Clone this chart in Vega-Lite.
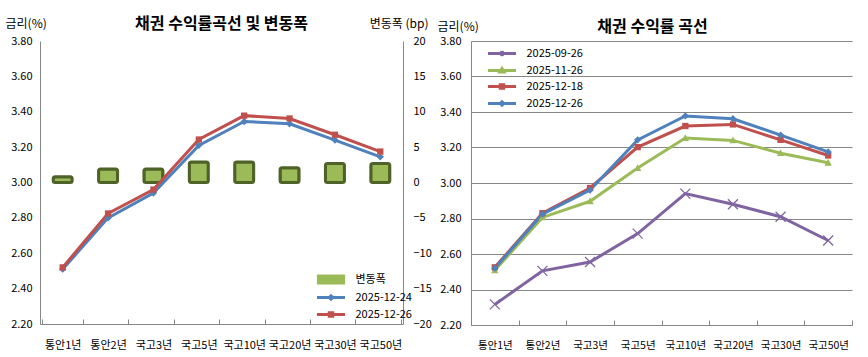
{
  "$schema": "https://vega.github.io/schema/vega-lite/v6.json",
  "padding": {"left": 5, "top": 16, "right": 5, "bottom": 0},
  "background": "white",
  "datasets": {
    "chg": [
      {"tenor": "통안1년", "series": "변동폭", "chg": 0.8},
      {"tenor": "통안2년", "series": "변동폭", "chg": 1.9},
      {"tenor": "국고3년", "series": "변동폭", "chg": 1.9},
      {"tenor": "국고5년", "series": "변동폭", "chg": 2.9},
      {"tenor": "국고10년", "series": "변동폭", "chg": 2.9},
      {"tenor": "국고20년", "series": "변동폭", "chg": 2.1},
      {"tenor": "국고30년", "series": "변동폭", "chg": 2.7},
      {"tenor": "국고50년", "series": "변동폭", "chg": 2.7}
    ],
    "left": [
      {"tenor": "통안1년", "series": "2025-12-24", "rate": 2.51},
      {"tenor": "통안2년", "series": "2025-12-24", "rate": 2.80},
      {"tenor": "국고3년", "series": "2025-12-24", "rate": 2.94},
      {"tenor": "국고5년", "series": "2025-12-24", "rate": 3.21},
      {"tenor": "국고10년", "series": "2025-12-24", "rate": 3.345},
      {"tenor": "국고20년", "series": "2025-12-24", "rate": 3.332},
      {"tenor": "국고30년", "series": "2025-12-24", "rate": 3.24},
      {"tenor": "국고50년", "series": "2025-12-24", "rate": 3.145},
      {"tenor": "통안1년", "series": "2025-12-26", "rate": 2.52},
      {"tenor": "통안2년", "series": "2025-12-26", "rate": 2.825},
      {"tenor": "국고3년", "series": "2025-12-26", "rate": 2.96},
      {"tenor": "국고5년", "series": "2025-12-26", "rate": 3.243},
      {"tenor": "국고10년", "series": "2025-12-26", "rate": 3.378},
      {"tenor": "국고20년", "series": "2025-12-26", "rate": 3.362},
      {"tenor": "국고30년", "series": "2025-12-26", "rate": 3.27},
      {"tenor": "국고50년", "series": "2025-12-26", "rate": 3.175}
    ],
    "right": [
      {"tenor": "통안1년", "series": "2025-09-26", "rate": 2.316},
      {"tenor": "통안2년", "series": "2025-09-26", "rate": 2.505},
      {"tenor": "국고3년", "series": "2025-09-26", "rate": 2.555},
      {"tenor": "국고5년", "series": "2025-09-26", "rate": 2.715},
      {"tenor": "국고10년", "series": "2025-09-26", "rate": 2.94},
      {"tenor": "국고20년", "series": "2025-09-26", "rate": 2.88},
      {"tenor": "국고30년", "series": "2025-09-26", "rate": 2.81},
      {"tenor": "국고50년", "series": "2025-09-26", "rate": 2.676},
      {"tenor": "통안1년", "series": "2025-11-26", "rate": 2.508},
      {"tenor": "통안2년", "series": "2025-11-26", "rate": 2.806},
      {"tenor": "국고3년", "series": "2025-11-26", "rate": 2.897},
      {"tenor": "국고5년", "series": "2025-11-26", "rate": 3.084},
      {"tenor": "국고10년", "series": "2025-11-26", "rate": 3.253},
      {"tenor": "국고20년", "series": "2025-11-26", "rate": 3.24},
      {"tenor": "국고30년", "series": "2025-11-26", "rate": 3.168},
      {"tenor": "국고50년", "series": "2025-11-26", "rate": 3.114},
      {"tenor": "통안1년", "series": "2025-12-18", "rate": 2.525},
      {"tenor": "통안2년", "series": "2025-12-18", "rate": 2.83},
      {"tenor": "국고3년", "series": "2025-12-18", "rate": 2.972},
      {"tenor": "국고5년", "series": "2025-12-18", "rate": 3.202},
      {"tenor": "국고10년", "series": "2025-12-18", "rate": 3.321},
      {"tenor": "국고20년", "series": "2025-12-18", "rate": 3.33},
      {"tenor": "국고30년", "series": "2025-12-18", "rate": 3.243},
      {"tenor": "국고50년", "series": "2025-12-18", "rate": 3.155},
      {"tenor": "통안1년", "series": "2025-12-26", "rate": 2.52},
      {"tenor": "통안2년", "series": "2025-12-26", "rate": 2.825},
      {"tenor": "국고3년", "series": "2025-12-26", "rate": 2.96},
      {"tenor": "국고5년", "series": "2025-12-26", "rate": 3.243},
      {"tenor": "국고10년", "series": "2025-12-26", "rate": 3.378},
      {"tenor": "국고20년", "series": "2025-12-26", "rate": 3.362},
      {"tenor": "국고30년", "series": "2025-12-26", "rate": 3.27},
      {"tenor": "국고50년", "series": "2025-12-26", "rate": 3.175}
    ]
  },
  "config": {
    "font": "Noto Sans CJK KR",
    "view": {"stroke": null},
    "axis": {
      "labelFont": "Noto Sans CJK KR",
      "labelFontSize": 11,
      "labelColor": "#000000",
      "titleFont": "Noto Sans CJK KR",
      "titleFontSize": 12,
      "titleFontWeight": "normal",
      "titleColor": "#000000",
      "domainColor": "#868686",
      "gridColor": "#868686",
      "tickColor": "#868686"
    },
    "legend": {
      "labelFont": "Noto Sans CJK KR",
      "labelFontSize": 11,
      "labelColor": "#000000",
      "symbolSize": 49,
      "symbolStrokeWidth": 3,
      "symbolOffset": 10.5,
      "rowPadding": 0,
      "labelOffset": 19
    },
    "title": {"font": "Noto Sans CJK KR", "fontSize": 16, "fontWeight": "bold", "color": "#000000"}
  },
  "spacing": 5,
  "resolve": {"scale": {"color": "independent", "shape": "independent"}, "legend": {"color": "independent", "shape": "independent"}},
  "hconcat": [
    {
      "width": 363,
      "height": 283,
      "title": {"text": "채권 수익률곡선 및 변동폭", "anchor": "middle", "offset": -15},
      "layer": [
        {
          "data": {"name": "chg"},
          "mark": {"type": "bar", "size": 19, "stroke": "#4F6228", "strokeWidth": 3, "cornerRadius": 2},
          "encoding": {
            "x": {"field": "tenor", "type": "nominal", "sort": null,
                  "axis": {"title": null, "labelAngle": 0, "tickBand": "extent", "tickSize": -5, "labelPadding": 20, "domainColor": "#868686"}},
            "y": {"field": "chg", "type": "quantitative",
                  "scale": {"domain": [-20, 20], "nice": false},
                  "axis": {"orient": "right", "values": [-20, -15, -10, -5, 0, 5, 10, 15, 20], "grid": false, "ticks": false, "labelPadding": 10,
                           "title": "변동폭 (bp)", "titleAngle": 0, "titleAlign": "right", "titleBaseline": "middle", "titleX": 25, "titleY": -18}},
            "color": {"field": "series", "type": "nominal",
                      "scale": {"domain": ["변동폭", "2025-12-24", "2025-12-26"], "range": ["#9BBB59", "#4F81BD", "#C0504D"]},
                      "legend": {"title": null, "orient": "none", "legendX": 275, "legendY": 233,
                                 "encode": {"symbols": {"update": {
                                   "shape": [
                                     {"test": "datum.value === '변동폭'", "value": "M-3.6,-1H3.6V1H-3.6Z"},
                                     {"test": "datum.value === '2025-12-24'", "value": "M-4,0H4M0,-0.5L0.5,0L0,0.5L-0.5,0Z"},
                                     {"value": "M-4,0H4M-0.5,-0.5H0.5V0.5H-0.5Z"}
                                   ],
                                   "fill": [
                                     {"test": "datum.value === '변동폭'", "value": "#9BBB59"},
                                     {"test": "datum.value === '2025-12-24'", "value": "#4F81BD"},
                                     {"value": "#C0504D"}
                                   ],
                                   "stroke": [
                                     {"test": "datum.value === '변동폭'", "value": "#4F6228"},
                                     {"test": "datum.value === '2025-12-24'", "value": "#4F81BD"},
                                     {"value": "#C0504D"}
                                   ],
                                   "strokeWidth": {"value": 3},
                                   "opacity": {"value": 1}
                                 }}}}}
          }
        },
        {
          "data": {"name": "left"},
          "mark": {"type": "line", "strokeWidth": 3},
          "encoding": {
            "x": {"field": "tenor", "type": "nominal", "sort": null},
            "y": {"field": "rate", "type": "quantitative",
                  "scale": {"domain": [2.2, 3.8], "nice": false, "zero": false},
                  "axis": {"orient": "left", "values": [2.2, 2.4, 2.6, 2.8, 3.0, 3.2, 3.4, 3.6, 3.8], "format": ".2f", "ticks": false, "labelPadding": 8,
                           "title": "금리(%)", "titleAngle": 0, "titleAlign": "left", "titleBaseline": "middle", "titleX": -35, "titleY": -18}},
            "color": {"field": "series", "type": "nominal",
                      "legend": {"title": null, "orient": "none", "legendX": 275, "legendY": 233,
                                 "encode": {"symbols": {"update": {
                                   "shape": [
                                     {"test": "datum.value === '변동폭'", "value": "M-3.6,-1H3.6V1H-3.6Z"},
                                     {"test": "datum.value === '2025-12-24'", "value": "M-4,0H4M0,-0.5L0.5,0L0,0.5L-0.5,0Z"},
                                     {"value": "M-4,0H4M-0.5,-0.5H0.5V0.5H-0.5Z"}
                                   ],
                                   "fill": [
                                     {"test": "datum.value === '변동폭'", "value": "#9BBB59"},
                                     {"test": "datum.value === '2025-12-24'", "value": "#4F81BD"},
                                     {"value": "#C0504D"}
                                   ],
                                   "stroke": [
                                     {"test": "datum.value === '변동폭'", "value": "#4F6228"},
                                     {"test": "datum.value === '2025-12-24'", "value": "#4F81BD"},
                                     {"value": "#C0504D"}
                                   ],
                                   "strokeWidth": {"value": 3},
                                   "opacity": {"value": 1}
                                 }}}}}
          }
        },
        {
          "data": {"name": "left"},
          "mark": {"type": "point", "filled": true, "opacity": 1},
          "encoding": {
            "x": {"field": "tenor", "type": "nominal", "sort": null},
            "y": {"field": "rate", "type": "quantitative", "scale": {"domain": [2.2, 3.8], "nice": false, "zero": false}, "axis": null},
            "color": {"field": "series", "type": "nominal",
                      "legend": {"title": null, "orient": "none", "legendX": 275, "legendY": 233,
                                 "encode": {"symbols": {"update": {
                                   "shape": [
                                     {"test": "datum.value === '변동폭'", "value": "M-3.6,-1H3.6V1H-3.6Z"},
                                     {"test": "datum.value === '2025-12-24'", "value": "M-4,0H4M0,-0.5L0.5,0L0,0.5L-0.5,0Z"},
                                     {"value": "M-4,0H4M-0.5,-0.5H0.5V0.5H-0.5Z"}
                                   ],
                                   "fill": [
                                     {"test": "datum.value === '변동폭'", "value": "#9BBB59"},
                                     {"test": "datum.value === '2025-12-24'", "value": "#4F81BD"},
                                     {"value": "#C0504D"}
                                   ],
                                   "stroke": [
                                     {"test": "datum.value === '변동폭'", "value": "#4F6228"},
                                     {"test": "datum.value === '2025-12-24'", "value": "#4F81BD"},
                                     {"value": "#C0504D"}
                                   ],
                                   "strokeWidth": {"value": 3},
                                   "opacity": {"value": 1}
                                 }}}}},
            "shape": {"field": "series", "type": "nominal", "legend": null,
                      "scale": {"domain": ["2025-12-24", "2025-12-26"], "range": ["M0,-0.7L0.7,0L0,0.7L-0.7,0Z", "M-0.6,-0.6H0.6V0.6H-0.6Z"]}},
            "size": {"value": 110}
          }
        }
      ],
      "resolve": {"scale": {"y": "independent"}}
    },
    {
      "width": 381,
      "height": 284,
      "data": {"name": "right"},
      "title": {"text": "채권 수익률 곡선", "anchor": "middle", "offset": -15, "dx": -9},
      "encoding": {
        "x": {"field": "tenor", "type": "nominal", "sort": null,
              "axis": {"title": null, "labelAngle": 0, "tickBand": "extent", "tickSize": -5, "labelPadding": 20, "labelFontSize": 10.5}},
        "y": {"field": "rate", "type": "quantitative",
              "scale": {"domain": [2.2, 3.8], "nice": false, "zero": false},
              "axis": {"values": [2.2, 2.4, 2.6, 2.8, 3.0, 3.2, 3.4, 3.6, 3.8], "format": ".2f", "ticks": false, "labelPadding": 10,
                       "title": "금리(%)", "titleAngle": 0, "titleAlign": "left", "titleBaseline": "middle", "titleX": -34, "titleY": -15}},
        "color": {"field": "series", "type": "nominal",
                  "scale": {"domain": ["2025-09-26", "2025-11-26", "2025-12-18", "2025-12-26"], "range": ["#8064A2", "#9BBB59", "#C0504D", "#4F81BD"]}}
      },
      "layer": [
        {
          "mark": {"type": "line", "strokeWidth": 3},
          "encoding": {
            "color": {"field": "series", "type": "nominal",
                      "legend": {"title": null, "orient": "none", "legendX": 15, "legendY": 7,
                                 "encode": {"symbols": {"update": {
                                   "shape": [
                                     {"test": "datum.value === '2025-09-26'", "value": "M-4,0H4M-0.55,-0.55L0.55,0.55M-0.55,0.55L0.55,-0.55"},
                                     {"test": "datum.value === '2025-11-26'", "value": "M-4,0H4M0,-0.6L0.6,0.42H-0.6Z"},
                                     {"test": "datum.value === '2025-12-18'", "value": "M-4,0H4M-0.5,-0.5H0.5V0.5H-0.5Z"},
                                     {"value": "M-4,0H4M0,-0.5L0.5,0L0,0.5L-0.5,0Z"}
                                   ],
                                   "fill": [
                                     {"test": "datum.value === '2025-09-26'", "value": "transparent"},
                                     {"scale": "color", "field": "value"}
                                   ],
                                   "stroke": {"scale": "color", "field": "value"},
                                   "strokeWidth": {"value": 3},
                                   "opacity": {"value": 1}
                                 }}}}}
          }
        },
        {
          "transform": [{"filter": "datum.series !== '2025-09-26'"}],
          "mark": {"type": "point", "filled": true, "opacity": 1, "size": 110},
          "encoding": {
            "shape": {"field": "series", "type": "nominal", "legend": null,
                      "scale": {"domain": ["2025-11-26", "2025-12-18", "2025-12-26"],
                                "range": ["M0,-0.75L0.7,0.55H-0.7Z", "M-0.6,-0.6H0.6V0.6H-0.6Z", "M0,-0.7L0.7,0L0,0.7L-0.7,0Z"]}}
          }
        },
        {
          "transform": [{"filter": "datum.series === '2025-09-26'"}],
          "mark": {"type": "point", "filled": false, "opacity": 1, "size": 100, "strokeWidth": 1.3,
                   "shape": "M-1,-1L1,1M-1,1L1,-1"}
        }
      ]
    }
  ]
}
